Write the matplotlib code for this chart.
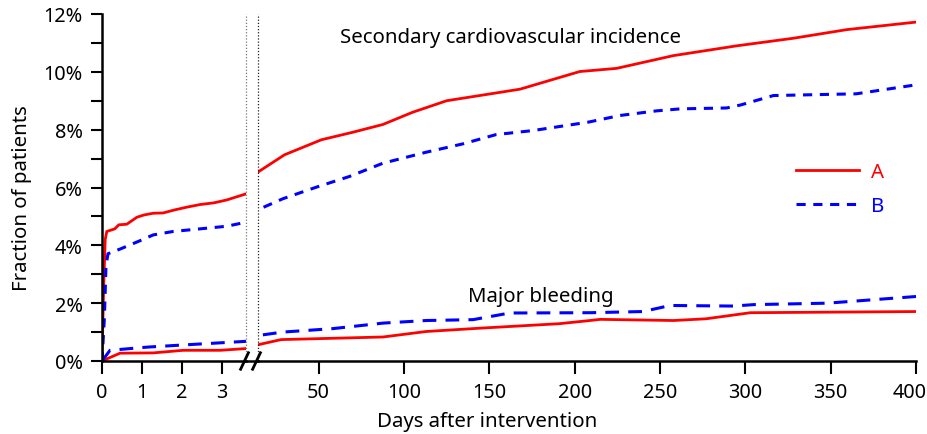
import matplotlib
matplotlib.use("Agg")
import matplotlib.pyplot as plt
from matplotlib.lines import Line2D
from matplotlib.ticker import FuncFormatter, MultipleLocator
from matplotlib.transforms import ScaledTranslation

plt.rcParams['font.family'] = ['Noto Sans', 'DejaVu Sans']

# ---- data (days after intervention, % of patients) ----
cv_a_days = [0, 0.04, 0.08, 0.12, 0.32, 0.42, 0.62, 0.87, 1.05, 1.28, 1.53, 1.8, 2.12, 2.45, 2.8, 3.12, 3.6,
             14.4, 30, 51.6, 70, 87.7, 105, 125, 168, 203, 224.6, 257.8, 295, 328, 359.5, 400]
cv_a_vals = [0, 2.5, 4.2, 4.48, 4.57, 4.71, 4.73, 4.97, 5.05, 5.11, 5.12, 5.22, 5.32, 5.41, 5.47, 5.57, 5.78,
             6.53, 7.13, 7.65, 7.91, 8.18, 8.6, 9.0, 9.4, 10.01, 10.12, 10.56, 10.9, 11.16, 11.46, 11.72]

cv_b_days = [0, 0.06, 0.1, 0.15, 0.45, 0.95, 1.28, 1.78, 2.45, 3.12, 3.6,
             14.4, 29, 48.6, 68, 87.7, 113, 134.6, 154, 175.7, 208, 226.5, 248, 262, 289, 297, 316.5, 365, 400]
cv_b_vals = [0, 1.5, 3.3, 3.71, 3.87, 4.16, 4.36, 4.48, 4.57, 4.66, 4.80,
             5.23, 5.61, 6.01, 6.38, 6.84, 7.22, 7.51, 7.83, 7.97, 8.26, 8.49, 8.65, 8.72, 8.75, 8.85, 9.18, 9.24, 9.55]

bl_a_days = [0, 0.45, 1.28, 2.03, 2.95, 3.6,
             14.4, 28, 87.7, 113, 146, 191, 209, 215, 258, 277, 303, 400]
bl_a_vals = [0, 0.27, 0.28, 0.37, 0.37, 0.43,
             0.56, 0.74, 0.83, 1.02, 1.14, 1.29, 1.40, 1.44, 1.40, 1.46, 1.67, 1.71]

bl_b_days = [0, 0.2, 1.13, 2.1, 3.6,
             14.4, 29, 58.4, 87.7, 113, 140.5, 162, 209, 240, 256, 293, 305, 348, 400]
bl_b_vals = [0, 0.37, 0.48, 0.56, 0.68,
             0.88, 1.0, 1.12, 1.31, 1.40, 1.43, 1.66, 1.67, 1.71, 1.92, 1.90, 1.95, 2.0, 2.23]

left_ticks = [0, 1, 2, 3]
right_ticks = [50, 100, 150, 200, 250, 300, 350, 400]
y_major = [0, 2, 4, 6, 8, 10, 12]
series_names = ['A', 'B']

RED = '#ff0000'
BLUE = '#0000ff'
W, H = 927, 435

fig = plt.figure(figsize=(W / 100, H / 100), dpi=100)

def fx(px):
    return px / W

def fy(py):
    return 1 - py / H

x0, xb1, xb2, x1 = 102, 246, 258, 916
ytop, ybot = 15, 362
axL = fig.add_axes([fx(x0), fy(ybot), fx(xb1 - x0), (ybot - ytop) / H])
axR = fig.add_axes([fx(xb2), fy(ybot), fx(x1 - xb2), (ybot - ytop) / H])

FS = 14.7
TFS = 14.3
for ax in (axL, axR):
    ax.plot(cv_a_days, cv_a_vals, color=RED, lw=2.0, solid_joinstyle='round')
    ax.plot(cv_b_days, cv_b_vals, color=BLUE, lw=2.2, dashes=(3, 2.5))
    ax.plot(bl_a_days, bl_a_vals, color=RED, lw=2.0, solid_joinstyle='round')
    ax.plot(bl_b_days, bl_b_vals, color=BLUE, lw=2.2, dashes=(4.5, 3))
    ax.set_ylim(0, 12)
    for s in ('top', 'right'):
        ax.spines[s].set_visible(False)
    ax.spines['bottom'].set_linewidth(1.8)
    ax.tick_params(axis='x', direction='out', length=9, width=1.5, labelsize=TFS, pad=6)
    ax.patch.set_visible(False)

axL.set_xlim(0, 3.6)
axR.set_xlim(14.5, 400)
axL.set_xticks(left_ticks)
axL.set_xticklabels([str(t) for t in left_ticks])
axR.set_xticks(right_ticks)
axR.set_xticklabels([str(t) for t in right_ticks])
# keep the last label inside the canvas, as in the reference
last = axR.get_xticklabels()[-1]
last.set_transform(last.get_transform() + ScaledTranslation(-6 / 100, 0, fig.dpi_scale_trans))

axL.spines['left'].set_linewidth(1.8)
axL.set_yticks(y_major)
axL.yaxis.set_major_formatter(FuncFormatter(lambda v, p: f"{int(round(v))}%"))
axL.yaxis.set_minor_locator(MultipleLocator(1))
axL.tick_params(axis='y', which='both', direction='out', length=8, width=1.5, labelsize=TFS, pad=6)
axR.spines['left'].set_visible(False)
axR.tick_params(axis='y', which='both', left=False, labelleft=False)

# dotted break lines
axL.axvline(3.6, color='#777777', lw=0.9, ls=(0, (1, 1.5)), clip_on=False)
axR.axvline(14.5, color='#222222', lw=0.9, ls=(0, (1, 1.5)), clip_on=False)

# continuous baseline across the gap and break marks
fig.add_artist(Line2D([fx(xb1), fx(xb2)], [fy(ybot), fy(ybot)], color='black', lw=1.8))
for cx in (244.5, 256.5):
    fig.add_artist(Line2D([fx(cx - 4.5), fx(cx + 4.5)], [fy(ybot + 9.5), fy(ybot - 9.5)],
                          color='black', lw=2.0, solid_capstyle='butt'))

# annotations
axR.text(62.5, 11.2, 'Secondary cardiovascular incidence', fontsize=FS, va='center', ha='left')
axR.text(137.5, 2.25, 'Major bleeding', fontsize=FS, va='center', ha='left')

# legend
handles = [Line2D([], [], color=RED, lw=2.0), Line2D([], [], color=BLUE, lw=2.2, dashes=(3, 2.5))]
leg = axR.legend(handles, series_names, loc='center left', bbox_to_anchor=(fx(796), fy(190)),
                 bbox_transform=fig.transFigure, frameon=False, fontsize=FS,
                 handlelength=3.1, handletextpad=0.55, labelspacing=0.72, labelcolor='linecolor',
                 borderpad=0, borderaxespad=0)

fig.text(fx(487), fy(422), 'Days after intervention', fontsize=FS, ha='center', va='center')
fig.text(fx(22), fy(198), 'Fraction of patients', fontsize=FS, ha='center', va='center', rotation=90)

fig.savefig('out.png', dpi=100)
